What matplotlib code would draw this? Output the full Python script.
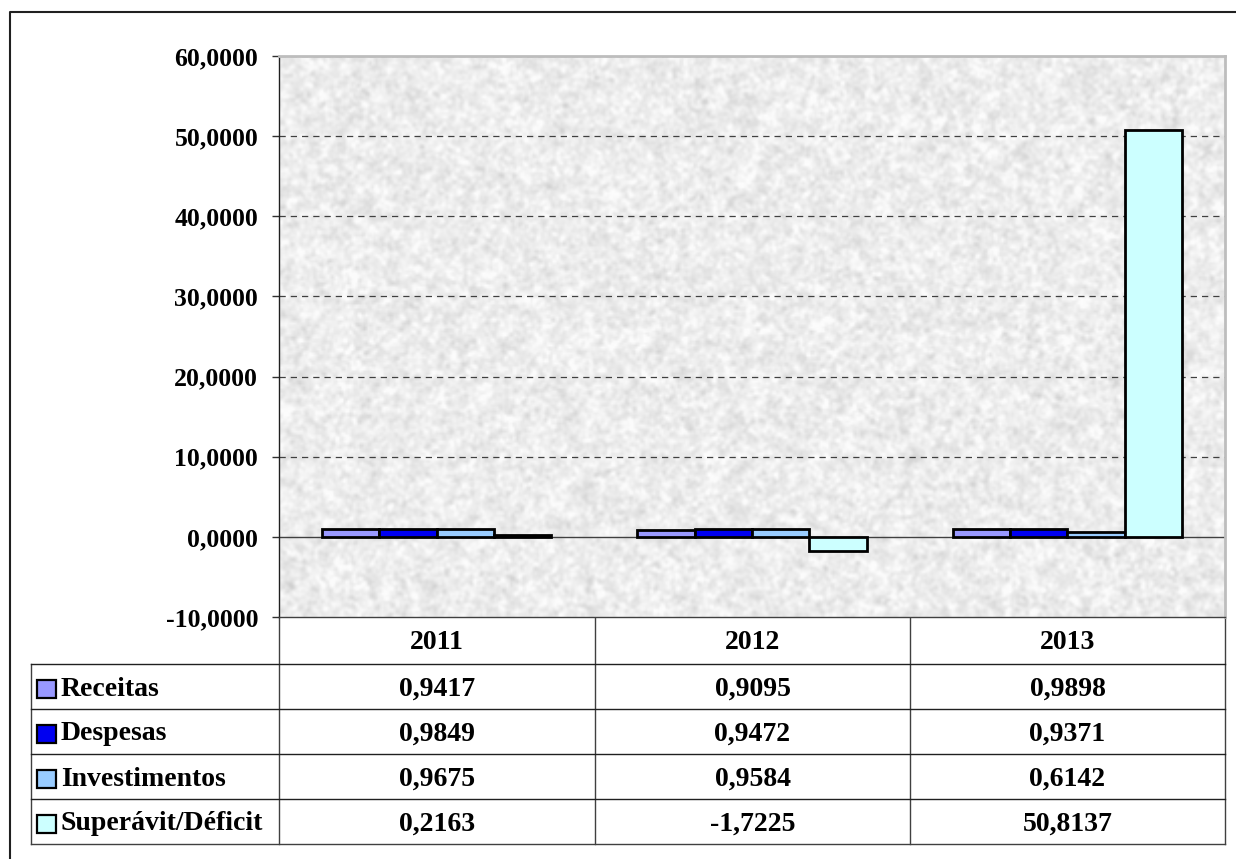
import matplotlib.pyplot as plt
import numpy as np
from matplotlib.ticker import FuncFormatter
from matplotlib.patches import Rectangle

plt.rcParams['font.family'] = ['Liberation Serif', 'DejaVu Serif']
plt.rcParams['font.weight'] = 'bold'

# data
years = ['2011', '2012', '2013']
series = ['Receitas', 'Despesas', 'Investimentos', 'Superávit/Déficit']
receitas = [0.9417, 0.9095, 0.9898]
despesas = [0.9849, 0.9472, 0.9371]
investimentos = [0.9675, 0.9584, 0.6142]
superavit = [0.2163, -1.7225, 50.8137]
values = [receitas, despesas, investimentos, superavit]
colors = ['#9999FF', '#0000F0', '#99CCFF', '#CCFFFF']

W, H = 1236, 859
fig = plt.figure(figsize=(W / 100, H / 100), dpi=100)

# plot area in pixel coords
left, right, top, bottom = 279, 1225, 56, 617
ax = fig.add_axes([left / W, 1 - bottom / H, (right - left) / W, (bottom - top) / H])


def smooth(a, k):
    k = np.asarray(k, float)
    k /= k.sum()
    for axis in (0, 1):
        a = np.apply_along_axis(lambda r: np.convolve(r, k, mode='same'), axis, a)
    return a / a.std()


# granite-like background texture
rng = np.random.default_rng(7)
fine = smooth(rng.normal(0, 1, (280, 470)), [1, 2, 1])
coarse = smooth(rng.normal(0, 1, (280, 470)), [1, 2, 3, 4, 3, 2, 1])
tex = 0.928 + 0.022 * fine + 0.016 * coarse
tex = np.clip(tex, 0.80, 0.985)
ax.imshow(tex, cmap='gray', vmin=0, vmax=1, extent=(-0.5, 2.5, -10, 60),
          aspect='auto', interpolation='bilinear', zorder=0)

n = len(series)
bw = 1 / 5.5
x = np.arange(len(years))
for i, (vals, c) in enumerate(zip(values, colors)):
    ax.bar(x + (i - (n - 1) / 2) * bw, vals, bw, color=c, edgecolor='black',
           linewidth=2, zorder=3)

ax.set_xlim(-0.5, 2.5)
ax.set_ylim(-10, 60)
ax.set_yticks(np.arange(-10, 61, 10))
ax.yaxis.set_major_formatter(FuncFormatter(lambda v, p: f'{v:.4f}'.replace('.', ',')))
ax.set_xticks([])
for yv in range(10, 61, 10):
    ax.axhline(yv, color='#404040', lw=0.9, ls=(0, (5, 4)), zorder=1)
ax.axhline(0, color='#404040', lw=1, zorder=2)
ax.tick_params(axis='y', length=5, width=1, pad=10, labelsize=18.5, color='#303030')
for lab in ax.get_yticklabels():
    lab.set_fontweight('bold')
ax.spines['left'].set_color('#202020')
ax.spines['left'].set_linewidth(1)
ax.spines['bottom'].set_color('#404040')
ax.spines['bottom'].set_linewidth(1)
for s in ('top', 'right'):
    ax.spines[s].set_color('#bdbdbd')
    ax.spines[s].set_linewidth(2)

# overlay in pixel coords for the data table and outer frame
ov = fig.add_axes([0, 0, 1, 1], zorder=-1)
ov.set_xlim(0, W)
ov.set_ylim(H, 0)
ov.axis('off')
ov.plot([10, 10, W], [H, 12, 12], color='#202020', lw=1.5)

col_edges = [279, 595, 910, 1225]
row_edges = [617, 664, 709, 754, 799, 844]
tl = '#404040'
for xe in col_edges:
    ov.plot([xe, xe], [row_edges[0], row_edges[-1]], color=tl, lw=1)
ov.plot([31, 31], [row_edges[1], row_edges[-1]], color=tl, lw=1)
for ye in row_edges[1:]:
    ov.plot([31, 1225], [ye, ye], color='#202020' if ye != row_edges[-1] else tl, lw=1)
for j, yr in enumerate(years):
    ov.text((col_edges[j] + col_edges[j + 1]) / 2, (row_edges[0] + row_edges[1]) / 2 + 2, yr,
            ha='center', va='center', fontsize=20, fontweight='bold')
for i, (name, vals, c) in enumerate(zip(series, values, colors)):
    yc = (row_edges[i + 1] + row_edges[i + 2]) / 2 + 2.5
    ov.add_patch(Rectangle((37, yc - 9), 19, 18, facecolor=c, edgecolor='black', lw=1.6))
    ov.text(61, yc, name, ha='left', va='center', fontsize=20, fontweight='bold')
    for j, v in enumerate(vals):
        ov.text((col_edges[j] + col_edges[j + 1]) / 2, yc, f'{v:.4f}'.replace('.', ','),
                ha='center', va='center', fontsize=20, fontweight='bold')

fig.savefig('out.png', dpi=100)
